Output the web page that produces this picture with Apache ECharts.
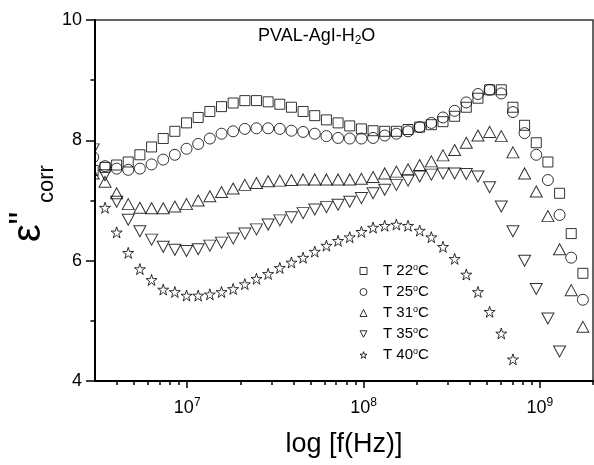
<!DOCTYPE html>
<html><head><meta charset="utf-8">
<script src="https://cdn.jsdelivr.net/npm/echarts@6/dist/echarts.min.js"></script>
<style>html,body{margin:0;padding:0;background:#fff}#c{width:594px;height:465px}</style>
</head><body><div id="c"></div>
<script>
// ---- data ----
const freqHz = [2.93e6, 3.42e6, 3.98e6, 4.63e6, 5.39e6, 6.28e6, 7.31e6, 8.51e6, 9.91e6,
  1.154e7, 1.344e7, 1.565e7, 1.822e7, 2.122e7, 2.47e7, 2.876e7, 3.35e7, 3.9e7, 4.541e7, 5.288e7,
  6.157e7, 7.169e7, 8.347e7, 9.721e7, 1.132e8, 1.318e8, 1.535e8, 1.787e8, 2.081e8, 2.423e8,
  2.821e8, 3.285e8, 3.825e8, 4.454e8, 5.186e8, 6.039e8, 7.031e8, 8.187e8, 9.533e8, 1.11e9,
  1.293e9, 1.505e9, 1.753e9];
const t22 = [7.50, 7.55, 7.59, 7.64, 7.76, 7.89, 8.03, 8.15, 8.29, 8.38, 8.48, 8.56, 8.62, 8.66, 8.66,
  8.64, 8.60, 8.55, 8.48, 8.41, 8.34, 8.29, 8.24, 8.19, 8.16, 8.15, 8.15, 8.18, 8.22, 8.26, 8.31,
  8.40, 8.55, 8.70, 8.84, 8.84, 8.55, 8.25, 7.96, 7.64, 7.12, 6.45, 5.79];
const t25 = [7.72, 7.57, 7.53, 7.51, 7.53, 7.60, 7.68, 7.76, 7.86, 7.94, 8.03, 8.11, 8.15, 8.19, 8.20,
  8.20, 8.19, 8.16, 8.14, 8.11, 8.07, 8.04, 8.03, 8.03, 8.04, 8.08, 8.11, 8.15, 8.22, 8.29, 8.38,
  8.49, 8.63, 8.77, 8.84, 8.78, 8.47, 8.12, 7.76, 7.34, 6.76, 6.05, 5.35];
const t31 = [7.45, 7.31, 7.12, 6.94, 6.88, 6.87, 6.87, 6.90, 6.94, 7.00, 7.07, 7.14, 7.20, 7.26, 7.29,
  7.32, 7.33, 7.34, 7.35, 7.35, 7.35, 7.35, 7.35, 7.36, 7.39, 7.45, 7.48, 7.52, 7.59, 7.65, 7.75,
  7.84, 7.96, 8.08, 8.14, 8.07, 7.80, 7.45, 7.15, 6.74, 6.19, 5.51, 4.90];
const t35 = [7.85, 7.42, 6.98, 6.68, 6.49, 6.35, 6.23, 6.18, 6.16, 6.19, 6.25, 6.30, 6.37, 6.45, 6.52,
  6.60, 6.67, 6.72, 6.79, 6.85, 6.89, 6.93, 6.98, 7.04, 7.12, 7.18, 7.26, 7.33, 7.40, 7.43, 7.45,
  7.45, 7.44, 7.40, 7.22, 6.90, 6.49, 6.00, 5.53, 5.04, 4.49];
const t40 = [null, 6.88, 6.47, 6.13, 5.86, 5.68, 5.52, 5.48, 5.42, 5.42, 5.44, 5.48, 5.53, 5.61, 5.70,
  5.78, 5.88, 5.97, 6.05, 6.15, 6.25, 6.33, 6.39, 6.48, 6.55, 6.58, 6.60, 6.58, 6.50, 6.39, 6.23,
  6.03, 5.77, 5.48, 5.15, 4.79, 4.36];
const seriesNames = ['T 22°C', 'T 25°C', 'T 31°C', 'T 35°C', 'T 40°C'];
const xMajorTicks = [1e7, 1e8, 1e9];
const xMinorTicks = [4e6, 5e6, 6e6, 7e6, 8e6, 9e6, 2e7, 3e7, 4e7, 5e7, 6e7, 7e7, 8e7, 9e7,
  2e8, 3e8, 4e8, 5e8, 6e8, 7e8, 8e8, 9e8, 2e9];
const yTicks = [4, 6, 8, 10];
const chartTitle = 'PVAL-AgI-H{b|2}O';
const xName = 'log [f(Hz)]';

// ---- chart ----
const FF = '"Liberation Sans", Arial, sans-serif';
const STAR = 'path://M50 0L61.23 34.55L97.55 34.55L68.17 55.9L79.39 90.45L50 69.1L20.61 90.45L31.83 55.9L2.45 34.55L38.77 34.55Z';
const DOWN_TRI = 'path://M0 0L12 0L6 11Z';
function pts(vals) {
  const out = [];
  vals.forEach((v, i) => { if (v != null) out.push([freqHz[i], v]); });
  return out;
}
const markStyle = { color: 'rgba(0,0,0,0)', borderColor: '#000', borderWidth: 1 };
function sc(name, vals, symbol, size, rot) {
  return { type: 'scatter', name, data: pts(vals), symbol, symbolSize: size, symbolRotate: rot || 0,
    clip: false, itemStyle: markStyle, emphasis: { disabled: true } };
}
const chart = echarts.init(document.getElementById('c'), null, { renderer: 'canvas' });
chart.setOption({
  animation: false,
  backgroundColor: '#fff',
  title: { text: chartTitle, left: 258, top: 25, padding: 0,
    textStyle: { fontSize: 18, fontWeight: 'normal', fontFamily: FF, color: '#000', lineHeight: 22,
      rich: { b: { fontSize: 12, fontFamily: FF, color: '#000', verticalAlign: 'bottom', lineHeight: 3 } } } },
  grid: { left: 95, right: 1, top: 20, bottom: 80, show: true, borderColor: '#333', borderWidth: 1.5 },
  legend: { orient: 'vertical', left: 359.5, top: 263, padding: 0, itemWidth: 7, itemHeight: 7, itemGap: 5,
    data: [
      { name: seriesNames[0] }, { name: seriesNames[1] }, { name: seriesNames[2] },
      { name: seriesNames[3], icon: DOWN_TRI }, { name: seriesNames[4] }
    ],
    formatter: n => n.replace('°', '{s|o}'),
    itemStyle: { borderWidth: 1 },
    textStyle: { fontSize: 15, fontFamily: FF, color: '#000', lineHeight: 16, padding: [0, 0, 0, 11],
      rich: { s: { fontSize: 9, fontFamily: FF, color: '#000', verticalAlign: 'top', lineHeight: 8 } } } },
  xAxis: [
    { type: 'log', logBase: 10, min: 3e6, max: 2e9, position: 'bottom', z: 60,
      name: xName, nameLocation: 'middle', nameGap: 49,
      nameTextStyle: { fontSize: 27, fontFamily: FF, color: '#000', lineHeight: 30 },
      axisLine: { show: true, lineStyle: { color: '#000', width: 2 } },
      axisTick: { show: true, customValues: xMajorTicks, length: 7, lineStyle: { color: '#000', width: 1.5 } },
      axisLabel: { customValues: xMajorTicks, margin: 16, fontSize: 18, fontFamily: FF, color: '#000', lineHeight: 22,
        formatter: v => '10{s|' + Math.round(Math.log10(v)) + '}',
        rich: { s: { fontSize: 12, fontFamily: FF, color: '#000', verticalAlign: 'top', lineHeight: 3 } } },
      splitLine: { show: false } },
    { type: 'log', logBase: 10, min: 3e6, max: 2e9, position: 'bottom', z: 60,
      axisLine: { show: false },
      axisTick: { show: true, customValues: xMinorTicks, length: 4, lineStyle: { color: '#000', width: 1.5 } },
      axisLabel: { show: false }, splitLine: { show: false } }
  ],
  yAxis: { type: 'value', min: yTicks[0], max: yTicks[yTicks.length - 1], interval: 2, z: 60,
    axisLine: { show: true, lineStyle: { color: '#000', width: 2 } },
    axisTick: { show: true, length: 9, lineStyle: { color: '#000', width: 1.5 } },
    minorTick: { show: true, splitNumber: 2, length: 4.5, lineStyle: { color: '#000', width: 1.5 } },
    axisLabel: { fontSize: 18, fontFamily: FF, color: '#000', margin: 13 },
    splitLine: { show: false }, minorSplitLine: { show: false } },
  graphic: [
    { type: 'rect', z: 50, silent: true, shape: { x: 84, y: 12, width: 10, height: 374 }, style: { fill: '#fff' } },
    { type: 'text', x: 29.4, y: 242, rotation: Math.PI / 2, z: 70,
      style: { text: 'ε', font: '40px ' + FF, fill: '#000', align: 'left', textAlign: 'left', verticalAlign: 'middle', textVerticalAlign: 'middle' } },
    { type: 'text', x: 25, y: 224.5, rotation: Math.PI / 2, z: 70,
      style: { text: '"', font: '36px ' + FF, fill: '#000', align: 'left', textAlign: 'left', verticalAlign: 'middle', textVerticalAlign: 'middle' } },
    { type: 'text', x: 47.4, y: 203, rotation: Math.PI / 2, z: 70,
      style: { text: 'corr', font: '22px ' + FF, fill: '#000', align: 'left', textAlign: 'left', verticalAlign: 'middle', textVerticalAlign: 'middle' } }
  ],
  series: [
    sc(seriesNames[0], t22, 'rect', 10),
    sc(seriesNames[1], t25, 'circle', 11),
    sc(seriesNames[2], t31, 'triangle', [12, 11]),
    sc(seriesNames[3], t35, 'triangle', [12, 11], 180),
    sc(seriesNames[4], t40, STAR, 11)
  ]
});
</script></body></html>
